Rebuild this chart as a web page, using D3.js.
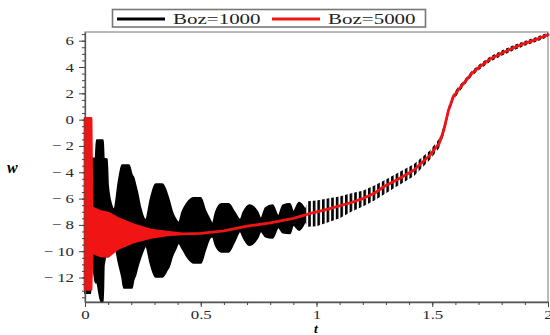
<!DOCTYPE html>
<html>
<head>
<meta charset="utf-8">
<script src="https://cdn.jsdelivr.net/npm/d3@7"></script>
<style>
  body { margin: 0; background: #fff; }
  svg { display: block; font-family: "Liberation Serif", "Times New Roman", serif; }
</style>
</head>
<body>
<div id="chart"></div>
<script>
// series labels / colours
const seriesNames = ["Boz=1000", "Boz=5000"];
const seriesColors = ["#000000", "#f01414"];

// Boz=1000 : oscillating curve, read as upper / lower envelope
const blackT  = [0, 0.025, 0.027, 0.045, 0.05, 0.07, 0.078, 0.082, 0.095, 0.1, 0.115, 0.125,
  0.147, 0.16, 0.168, 0.19, 0.203, 0.21, 0.219, 0.226, 0.24, 0.255, 0.262,
  0.284, 0.305, 0.334, 0.356, 0.363, 0.377, 0.39, 0.405,
  0.42, 0.44, 0.47, 0.5, 0.52, 0.54, 0.55,
  0.565, 0.59, 0.62, 0.645, 0.67, 0.685, 0.71, 0.745, 0.76,
  0.78, 0.81, 0.835, 0.855, 0.885, 0.9, 0.925, 0.95,
  0.963, 1.0, 1.06, 1.1, 1.15, 1.2, 1.25, 1.3, 1.35, 1.42, 1.49, 1.53, 1.55,
  1.57, 1.59, 1.61, 1.64, 1.67, 1.7, 1.75, 1.8, 1.85, 1.9, 1.95, 2.0];
const blackUp = [0, 0, -2.9, -2.95, -1.55, -1.55, -1.55, -2.95, -3.0, -5.0, -6.5, -6.8,
  -4.45, -3.45, -3.45, -3.45, -4.2, -4.4, -5.0, -5.5, -6.7, -7.5, -7.6,
  -5.95, -4.9, -4.9, -5.7, -6.1, -7.0, -7.5, -7.8,
  -7.0, -6.35, -5.95, -5.95, -6.9, -7.6, -7.9,
  -7.0, -6.4, -6.4, -7.0, -7.6, -7.0, -6.5, -7.0, -7.5,
  -6.7, -6.5, -7.3, -6.5, -6.4, -7.0, -6.3, -6.8,
  -6.2, -6.15, -5.95, -5.85, -5.6, -5.4, -5.0, -4.55, -4.05, -3.4, -2.35, -1.45, -0.45,
  1.0, 1.95, 2.45, 3.05, 3.7, 4.15, 4.8, 5.25, 5.65, 5.98, 6.28, 6.62];
const blackLo = [-13.2, -13.2, -10.0, -12.4, -12.4, -13.85, -13.85, -11.05, -10.3, -10.3, -9.6, -9.5,
  -11.05, -12.0, -12.8, -12.8, -12.8, -12.2, -11.8, -11.3, -10.5, -9.8, -9.6,
  -11.05, -11.95, -11.95, -11.4, -11.2, -10.4, -9.9, -9.4,
  -9.8, -10.4, -10.9, -10.9, -9.9, -9.0, -8.9,
  -9.6, -10.05, -10.05, -9.3, -8.5, -9.0, -9.55, -9.0, -8.5,
  -8.9, -9.0, -8.2, -8.6, -8.65, -8.0, -8.4, -7.8,
  -8.15, -8.1, -7.75, -7.5, -7.0, -6.6, -6.15, -5.6, -5.05, -4.3, -3.05, -2.15, -1.15,
  0.4, 1.45, 1.95, 2.65, 3.3, 3.75, 4.4, 4.85, 5.25, 5.62, 5.92, 6.28];

// Boz=5000 : fast oscillation near t=0 (envelope), then a single curve
const redT  = [0, 0.026, 0.03, 0.07, 0.1, 0.14, 0.21, 0.285, 0.355, 0.42, 0.5, 0.6, 0.7, 0.8, 0.9,
  0.97, 1.05, 1.15, 1.2, 1.25, 1.29, 1.35, 1.42, 1.49, 1.53, 1.55, 1.57, 1.59, 1.61,
  1.64, 1.67, 1.7, 1.75, 1.8, 1.85, 1.9, 1.95, 2.0];
const redUp = [0.1, 0.1, -6.7, -7.0, -7.1, -7.5, -8.0, -8.4, -8.55, -8.68, -8.65, -8.45, -8.1, -7.85, -7.5,
  -7.15, -6.8, -6.3, -6.0, -5.6, -5.1, -4.55, -3.85, -2.7, -1.8, -0.8, 0.7, 1.7, 2.2,
  2.85, 3.5, 3.95, 4.6, 5.05, 5.45, 5.8, 6.1, 6.45];
const redLo = [-12.9, -12.9, -10.1, -10.35, -10.4, -9.8, -9.3, -8.95, -8.75, -8.68, -8.65, -8.45, -8.1, -7.85, -7.5,
  -7.15, -6.8, -6.3, -6.0, -5.6, -5.1, -4.55, -3.85, -2.7, -1.8, -0.8, 0.7, 1.7, 2.2,
  2.85, 3.5, 3.95, 4.6, 5.05, 5.45, 5.8, 6.1, 6.45];

// axis ticks
const xTicks = [0, 0.5, 1, 1.5, 2];
const yTicks = [-12, -10, -8, -6, -4, -2, 0, 2, 4, 6];

const W = 550, H = 335;
const svg = d3.select("#chart").append("svg")
  .attr("width", W).attr("height", H);

const x = d3.scaleLinear().domain([0, 2]).range([85, 548]);
const y = d3.scaleLinear().domain([-13.86, 6.66]).range([302, 32]);

// text in the source image is stretched sideways
function stretch(sel, sx) {
  sel.each(function() {
    const t = d3.select(this);
    const tx = +t.attr("x") || 0, ty = +t.attr("y") || 0;
    t.attr("x", 0).attr("y", 0)
      .attr("transform", `translate(${tx},${ty}) scale(${sx},1)`);
  });
}

// vertical hatching for the late, dashed-looking part of Boz=1000
const defs = svg.append("defs");
defs.append("pattern")
  .attr("id", "dash")
  .attr("patternUnits", "userSpaceOnUse")
  .attr("width", 4.6).attr("height", 10)
  .append("rect")
  .attr("width", 2.6).attr("height", 10)
  .attr("fill", "#000");

// frame
svg.append("rect")
  .attr("x", x(0)).attr("y", y(6.66))
  .attr("width", x(2) - x(0)).attr("height", y(-13.86) - y(6.66))
  .attr("fill", "none").attr("stroke", "#8c8c8c").attr("stroke-width", 1.2);

const blackData = blackT.map((t, i) => ({t, up: blackUp[i], lo: blackLo[i]}));
const redData = redT.map((t, i) => ({t, up: redUp[i], lo: redLo[i]}));

const band = d3.area()
  .x(d => x(d.t))
  .y0(d => y(d.lo))
  .y1(d => y(d.up));

// solid part (beats) and hatched part (small ripples)
svg.append("path")
  .datum(blackData.filter(d => d.t <= 0.95))
  .attr("d", band.curve(d3.curveMonotoneX))
  .attr("fill", seriesColors[0])
  .attr("stroke", seriesColors[0])
  .attr("stroke-width", 1.6)
  .attr("stroke-linejoin", "round");

band.curve(d3.curveLinear);

svg.append("path")
  .datum(blackData.filter(d => d.t >= 0.95))
  .attr("d", band)
  .attr("fill", "url(#dash)");

svg.append("path")
  .datum(redData)
  .attr("d", band)
  .attr("fill", seriesColors[1])
  .attr("stroke", seriesColors[1])
  .attr("stroke-width", 2.8)
  .attr("stroke-linejoin", "round");

// axes
const fmt = d => d < 0 ? "\u2212 " + (-d) : String(d);

const xAxis = svg.append("g")
  .attr("transform", `translate(0,${y(-13.86)})`)
  .call(d3.axisBottom(x).tickValues(xTicks).tickFormat(fmt)
    .tickSize(5).tickPadding(3).tickSizeOuter(0));
svg.append("g")
  .attr("transform", `translate(0,${y(-13.86)})`)
  .call(d3.axisBottom(x).tickValues(d3.range(0, 2.01, 0.1)).tickFormat("")
    .tickSize(3).tickSizeOuter(0))
  .call(g => g.select(".domain").remove());

const yAxis = svg.append("g")
  .attr("transform", `translate(${x(0)},0)`)
  .call(d3.axisLeft(y).tickValues(yTicks).tickFormat(fmt)
    .tickSize(6).tickPadding(5).tickSizeOuter(0));
svg.append("g")
  .attr("transform", `translate(${x(0)},0)`)
  .call(d3.axisLeft(y).tickValues(d3.range(-13.5, 6.6, 0.5)).tickFormat("")
    .tickSize(3).tickSizeOuter(0))
  .call(g => g.select(".domain").remove());

svg.selectAll(".domain").attr("stroke", "#555").attr("stroke-width", 1.3);
svg.selectAll(".tick line").attr("stroke", "#444");
svg.selectAll(".tick text")
  .attr("fill", "#2a2a2a")
  .style("font-size", "12.5px")
  .style("font-family", "'Liberation Serif', serif");
stretch(xAxis.selectAll(".tick text"), 1.35);
stretch(yAxis.selectAll(".tick text"), 1.35);

// axis titles
svg.append("text")
  .attr("x", 7).attr("y", 173)
  .style("font-size", "16px").style("font-style", "italic")
  .style("font-weight", "bold")
  .text("w");
svg.append("text")
  .attr("x", 314).attr("y", 333)
  .style("font-size", "13.5px").style("font-style", "italic")
  .style("font-weight", "bold")
  .text("t");

// legend
const legend = svg.append("g");
legend.append("rect")
  .attr("x", 112.5).attr("y", 9.5)
  .attr("width", 313).attr("height", 17.5)
  .attr("fill", "#fff").attr("stroke", "#777").attr("stroke-width", 1.6);

const legX = [117, 272];
seriesNames.forEach((name, i) => {
  legend.append("line")
    .attr("x1", legX[i]).attr("x2", legX[i] + 48)
    .attr("y1", 19).attr("y2", 19)
    .attr("stroke", seriesColors[i]).attr("stroke-width", 3);
  legend.append("text")
    .attr("x", legX[i] + 56).attr("y", 24)
    .attr("fill", "#222")
    .style("font-size", "15px")
    .text(name)
    .call(stretch, 1.4);
});
</script>
</body>
</html>
